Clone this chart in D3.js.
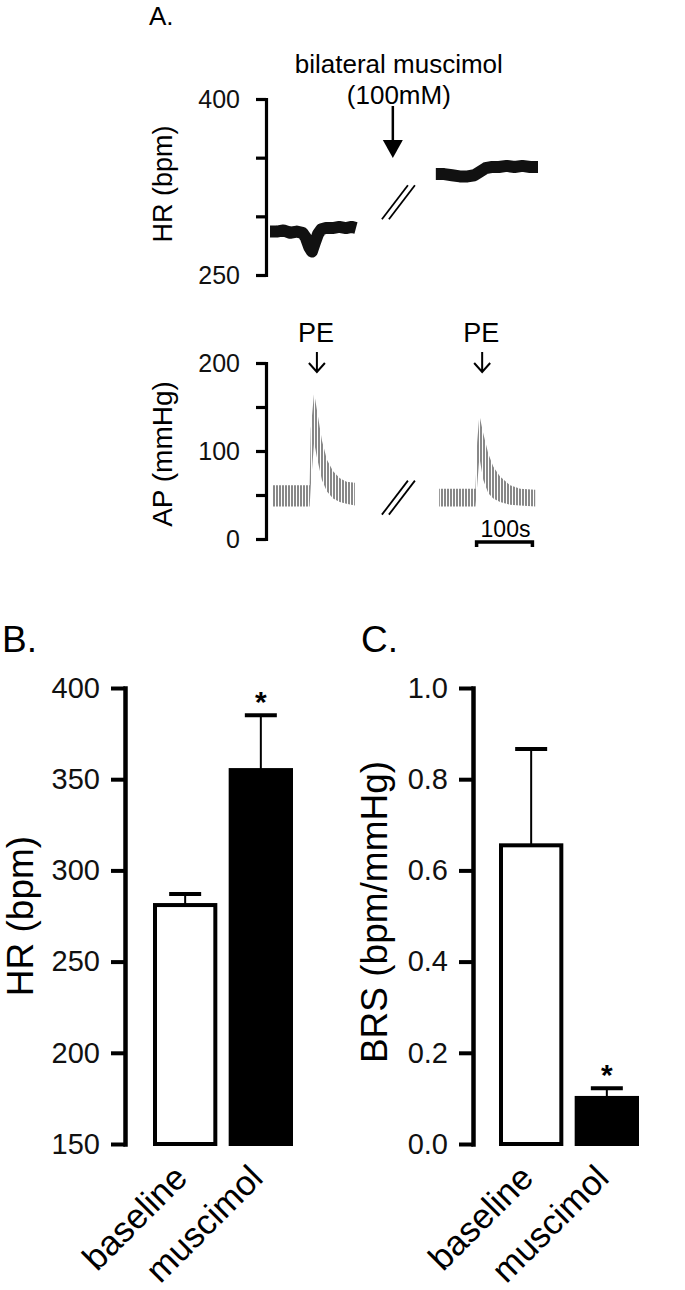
<!DOCTYPE html>
<html>
<head>
<meta charset="utf-8">
<script src="https://cdn.jsdelivr.net/npm/d3@7"></script>
<style>
body { margin: 0; background: #fff; }
svg { display: block; font-family: "Liberation Sans", Arial, sans-serif; }
</style>
</head>
<body>
<svg id="fig" width="685" height="1290"></svg>
<script>
// ---- panel A : raw traces (time in s) ----
var hrTime1 = [0, 12, 24, 36, 48, 58, 64, 70, 75, 80, 86, 92, 100, 112, 124, 136, 146, 154];
var hrBpm1  = [287, 287, 288, 286, 287, 286, 282, 274, 270, 277, 285, 289, 290, 290, 291, 290, 291, 290];
var hrTime2 = [297, 312, 326, 340, 354, 366, 376, 386, 396, 410, 424, 438, 452, 466, 480];
var hrBpm2  = [336, 336, 335, 334, 334, 335, 338, 341, 342, 342, 343, 342, 343, 342, 342];

var apTime1 = [4, 71, 73, 79, 84, 93, 102, 113, 125, 137, 152];
var apSys1  = [61, 61, 125, 166, 147, 112, 90, 77, 69, 65, 64];
var apDia1  = [37, 37, 60, 110, 93, 67, 54, 46, 42, 40, 38];
var apTime2 = [303, 368, 371, 375, 382, 391, 400, 412, 430, 448, 475];
var apSys2  = [57, 57, 110, 141, 120, 97, 82, 71, 61, 57, 56];
var apDia2  = [37, 37, 60, 93, 67, 52, 46, 42, 39, 38, 37];

var peTimes = [84, 380];
var muscimolTime = 220;
var breakTime = 230;
var scaleBarStart = 370, scaleBarLength = 100;
var hrTicks = [250, 300, 350, 400];
var apTicks = [0, 50, 100, 150, 200];

// ---- panels B and C : group means ----
var groups = ['baseline', 'muscimol'];
var hrMean = [281, 355];
var hrSem = [6, 30];
var brsMean = [0.655, 0.101];
var brsSem = [0.211, 0.021];
var hrBarTicks = [150, 200, 250, 300, 350, 400];
var brsTicks = [0, 0.2, 0.4, 0.6, 0.8, 1.0];

var svg = d3.select('#fig');
svg.append('rect').attr('width', 685).attr('height', 1290).attr('fill', '#fff');

var defs = svg.append('defs');
defs.append('pattern').attr('id', 'beats').attr('patternUnits', 'userSpaceOnUse')
    .attr('width', 3).attr('height', 10)
    .append('rect').attr('width', 2).attr('height', 10).attr('fill', '#888');

function styleAxis(g, w, tw, fs) {
    g.attr('font-family', null).attr('font-size', fs);
    g.select('.domain').attr('stroke', '#000').attr('stroke-width', w).attr('stroke-linecap', 'square');
    g.selectAll('.tick line').attr('stroke', '#000').attr('stroke-width', tw);
    g.selectAll('.tick text').attr('fill', '#111');
}

// ================= A =================
var x = d3.scaleLinear().domain([0, 480]).range([270, 538]);
var yHR = d3.scaleLinear().domain([250, 400]).range([275, 99]);
var yAP = d3.scaleLinear().domain([0, 200]).range([539, 363]);

svg.append('text').attr('x', 149).attr('y', 25).attr('font-size', 26).text('A.');

var gHR = svg.append('g').attr('transform', 'translate(266,0)')
    .call(d3.axisLeft(yHR).tickValues(hrTicks).tickSize(10).tickSizeOuter(0).tickPadding(16)
        .tickFormat(function(d) { return (d === 400 || d === 250) ? d : ''; }));
styleAxis(gHR, 3.2, 3.2, 25);

var gAP = svg.append('g').attr('transform', 'translate(266,0)')
    .call(d3.axisLeft(yAP).tickValues(apTicks).tickSize(10).tickSizeOuter(0).tickPadding(16)
        .tickFormat(function(d) { return d % 100 === 0 ? d : ''; }));
styleAxis(gAP, 3.2, 3.2, 25);

svg.append('text').attr('transform', 'translate(172,184) rotate(-90)')
    .attr('text-anchor', 'middle').attr('font-size', 27).text('HR (bpm)');
svg.append('text').attr('transform', 'translate(172,454) rotate(-90)')
    .attr('text-anchor', 'middle').attr('font-size', 28).text('AP (mmHg)');

// HR trace
var hrLine = d3.line().x(function(d) { return x(d[0]); }).y(function(d) { return yHR(d[1]); });
[[hrTime1, hrBpm1], [hrTime2, hrBpm2]].forEach(function(s) {
    svg.append('path').datum(d3.zip(s[0], s[1])).attr('d', hrLine)
        .attr('fill', 'none').attr('stroke', '#111').attr('stroke-width', 12)
        .attr('stroke-linejoin', 'round');
});

// AP trace, pulsatile band
var apArea = d3.area().x(function(d) { return x(d[0]); })
    .y0(function(d) { return yAP(d[2]); }).y1(function(d) { return yAP(d[1]); });
[[apTime1, apSys1, apDia1], [apTime2, apSys2, apDia2]].forEach(function(s) {
    svg.append('path').datum(d3.zip(s[0], s[1], s[2])).attr('d', apArea)
        .attr('fill', 'url(#beats)');
});

// breaks
function breakMark(cx, cy) {
    [-3.5, 3.5].forEach(function(o) {
        svg.append('line').attr('x1', cx + o - 13).attr('y1', cy + 17).attr('x2', cx + o + 13).attr('y2', cy - 17)
            .attr('stroke', '#000').attr('stroke-width', 1.8);
    });
}
breakMark(x(breakTime), yHR(312));
breakMark(x(breakTime), yAP(47));

// muscimol arrow
var mx = x(muscimolTime);
svg.append('text').attr('x', mx + 6).attr('y', 73).attr('text-anchor', 'middle').attr('font-size', 26).text('bilateral muscimol');
svg.append('text').attr('x', mx + 6).attr('y', 104).attr('text-anchor', 'middle').attr('font-size', 26).text('(100mM)');
svg.append('line').attr('x1', mx).attr('x2', mx).attr('y1', 106).attr('y2', 142).attr('stroke', '#000').attr('stroke-width', 2.5);
svg.append('path').attr('d', 'M' + (mx - 10) + ',140L' + (mx + 10) + ',140L' + mx + ',158Z').attr('fill', '#000');

// PE arrows
peTimes.forEach(function(t) {
    var px = x(t);
    svg.append('text').attr('x', px - 1).attr('y', 342).attr('text-anchor', 'middle').attr('font-size', 27).text('PE');
    svg.append('path').attr('d', 'M' + px + ',352V372M' + (px - 8) + ',363L' + px + ',372L' + (px + 8) + ',363')
        .attr('fill', 'none').attr('stroke', '#000').attr('stroke-width', 2);
});

// scale bar
var sb0 = x(scaleBarStart), sb1 = x(scaleBarStart + scaleBarLength);
svg.append('path').attr('d', 'M' + sb0 + ',547V542H' + sb1 + 'V547')
    .attr('fill', 'none').attr('stroke', '#000').attr('stroke-width', 3.5);
svg.append('text').attr('x', (sb0 + sb1) / 2 + 1).attr('y', 537).attr('text-anchor', 'middle').attr('font-size', 23).text('100s');

// ================= B & C =================
function barPanel(opt) {
    var y = d3.scaleLinear().domain(opt.domain).range([1144, 688]);
    var xb = d3.scaleBand().domain(groups).range(opt.range).paddingInner(0.15).paddingOuter(0);
    var bw = xb.bandwidth();

    svg.append('text').attr('x', opt.labelX).attr('y', 652).attr('font-size', 37).text(opt.label);

    var g = svg.append('g').attr('transform', 'translate(' + opt.axisX + ',0)')
        .call(d3.axisLeft(y).tickValues(opt.ticks).tickSize(14).tickSizeOuter(0).tickPadding(11)
            .tickFormat(opt.format));
    styleAxis(g, 4.5, 4, 29);

    svg.append('text').attr('transform', 'translate(' + opt.titleX + ',' + opt.titleY + ') rotate(-90)')
        .attr('text-anchor', 'middle').attr('font-size', 37).text(opt.title);

    groups.forEach(function(grp, i) {
        var cx = xb(grp) + bw / 2;
        var top = y(opt.mean[i] + opt.sem[i]);
        svg.append('line').attr('x1', cx).attr('x2', cx).attr('y1', y(opt.mean[i])).attr('y2', top)
            .attr('stroke', '#000').attr('stroke-width', 2);
        svg.append('line').attr('x1', cx - 16).attr('x2', cx + 16).attr('y1', top).attr('y2', top)
            .attr('stroke', '#000').attr('stroke-width', 4);
        svg.append('rect').attr('x', xb(grp) + 2).attr('width', bw - 4)
            .attr('y', y(opt.mean[i])).attr('height', y(opt.domain[0]) - y(opt.mean[i]))
            .attr('fill', i === 0 ? '#fff' : '#000').attr('stroke', '#000').attr('stroke-width', 4);
        if (i === 1) {
            svg.append('text').attr('x', cx).attr('y', top - 3).attr('text-anchor', 'middle')
                .attr('font-size', 30).attr('font-weight', 'bold').text('*');
        }
        svg.append('text').attr('transform', 'translate(' + (cx + 4) + ',1180) rotate(-45)')
            .attr('text-anchor', 'end').attr('font-size', 35).text(grp);
    });
}

barPanel({ domain: [150, 400], ticks: hrBarTicks, mean: hrMean, sem: hrSem, range: [153, 293],
    axisX: 125, label: 'B.', labelX: 2, title: 'HR (bpm)', titleX: 33, titleY: 916,
    format: d3.format('d') });
barPanel({ domain: [0, 1], ticks: brsTicks, mean: brsMean, sem: brsSem, range: [499, 639],
    axisX: 473, label: 'C.', labelX: 361, title: 'BRS (bpm/mmHg)', titleX: 387, titleY: 912,
    format: d3.format('.1f') });
</script>
</body>
</html>
